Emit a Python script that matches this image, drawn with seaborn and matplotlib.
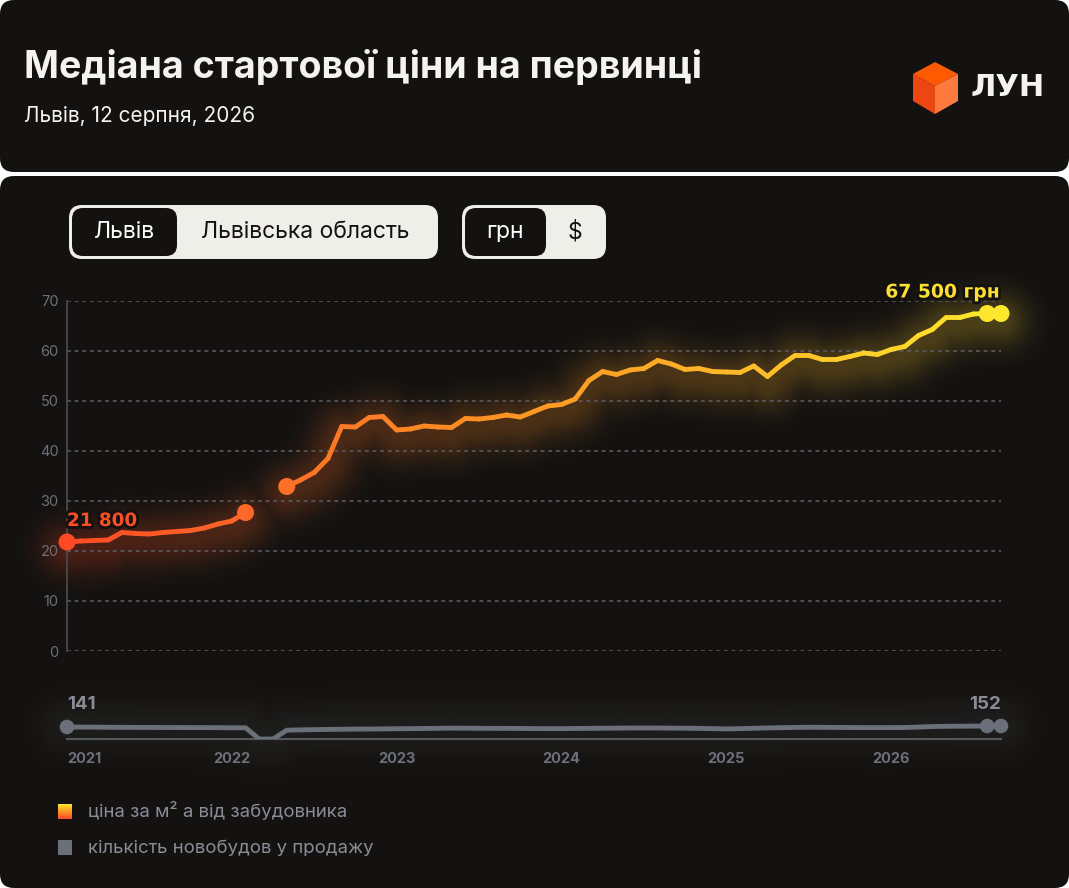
import numpy as np
import seaborn as sns
import matplotlib.pyplot as plt
import matplotlib.patheffects as pe
from matplotlib.collections import LineCollection
from matplotlib.colors import LinearSegmentedColormap
from matplotlib.patches import FancyBboxPatch, Polygon

# data: month index 0 = Jan 2021
months_a = list(range(0, 14))
price_a = [21.8, 22.0, 22.1, 22.2, 23.7, 23.5, 23.4, 23.7, 23.9, 24.1, 24.6, 25.4, 26.0, 27.7]
months_b = list(range(16, 69))
price_b = [32.9, 34.2, 35.7, 38.5, 44.9, 44.8, 46.7, 46.9, 44.2, 44.4, 45.0, 44.8,
           44.7, 46.5, 46.4, 46.7, 47.2, 46.8, 47.9, 49.0, 49.3, 50.4, 54.1, 55.9,
           55.3, 56.2, 56.5, 58.1, 57.4, 56.3, 56.5, 55.9, 55.8, 55.7, 57.0, 54.9,
           57.2, 59.1, 59.1, 58.3, 58.3, 58.9, 59.6, 59.3, 60.3, 60.9, 63.1, 64.3,
           66.7, 66.7, 67.4, 67.5, 67.5]
months_all = list(range(0, 69))
count_all = [141, 140, 139, 138, 137, 136, 136, 135, 135, 134, 134, 133, 132, 132,
             3, 3, 104, 108, 111, 113, 115, 117, 118, 119, 121, 122, 124, 126, 128,
             127, 126, 125, 125, 124, 123, 122, 122, 124, 125, 127, 128, 129, 130,
             129, 128, 127, 125, 122, 119, 122, 126, 130, 133, 136, 138, 137, 136,
             135, 134, 134, 134, 135, 140, 146, 149, 150, 151, 152, 152]
year_ticks = [0, 12, 24, 36, 48, 60]
year_labels = ['2021', '2022', '2023', '2024', '2025', '2026']
y_ticks = [0, 10, 20, 30, 40, 50, 60, 70]
first_label = '21 800'
last_label = '67 500 грн'
count_first, count_last = '141', '152'

W, H = 1069, 888
PANEL = '#131211'
GREY = '#6e7079'
LINE_GREY = '#6b6f7a'
# pixel frame of the main chart and the mini chart
X0, X1 = 67, 1001
Y_BOT, Y_TOP = 651, 301
MINI_BOT, MINI_TOP = 739.3, 700

sns.set_theme(style='dark')
plt.rcParams['font.family'] = ['Inter', 'DejaVu Sans']

price_cmap = LinearSegmentedColormap.from_list(
    'price', ['#ff4a24', '#ff6a28', '#ff8a24', '#ffa526', '#ffc62a', '#ffe82c'])


def box(x0, y0, x1, y1):
    return [x0 / W, 1 - y1 / H, (x1 - x0) / W, (y1 - y0) / H]


def glow(ax, lines, region, sigma, amp, color_fn, step=2):
    # soft halo around polylines (pixel coords), drawn as an RGBA image
    gx0, gx1, gy0, gy1 = region
    xs = np.arange(gx0, gx1, step) + step / 2
    ys = np.arange(gy0, gy1, step) + step / 2
    X, Y = np.meshgrid(xs, ys)
    d2 = np.full(X.shape, np.inf)
    for px, py in lines:
        for i in range(len(px) - 1):
            ax_, ay_, bx, by = px[i], py[i], px[i + 1], py[i + 1]
            dx, dy = bx - ax_, by - ay_
            ll = dx * dx + dy * dy
            t = np.clip(((X - ax_) * dx + (Y - ay_) * dy) / ll, 0, 1)
            d2 = np.minimum(d2, (X - ax_ - t * dx) ** 2 + (Y - ay_ - t * dy) ** 2)
    img = color_fn(X)
    img[..., 3] = amp * np.exp(-d2 / (2 * sigma ** 2))
    ax.imshow(img, extent=(gx0, gx1, gy1, gy0), origin='upper', aspect='auto',
              interpolation='bilinear', zorder=2)


fig = plt.figure(figsize=(W / 100, H / 100), dpi=100, facecolor='white')

# background, panels, header
bg = fig.add_axes([0, 0, 1, 1])
bg.axis('off')
bg.add_patch(FancyBboxPatch((0, 0), W, 172, boxstyle='round,pad=0,rounding_size=14',
                            fc=PANEL, ec='none'))
bg.add_patch(FancyBboxPatch((0, 176), W, H - 176, boxstyle='round,pad=0,rounding_size=14',
                            fc=PANEL, ec='none'))
bg.text(24, 68, 'Медіана стартової ціни на первинці', color='#f4f3ef', fontsize=27,
        fontweight='bold', va='center', ha='left')
bg.text(24, 116, 'Львів, 12 серпня, 2026', color='#f4f3ef', fontsize=15, va='center')

# logo cube
top, ul, ll, bot, lr, ur, cen = (935, 62), (913, 74), (913, 101), (935, 114), (958, 101), (958, 74), (935, 86)
bg.add_patch(Polygon([top, ur, cen, ul], fc='#ff5a00', ec='none'))
bg.add_patch(Polygon([ul, cen, bot, ll], fc='#ec4612', ec='none'))
bg.add_patch(Polygon([cen, ur, lr, bot], fc='#ff7a3c', ec='none'))
bg.text(971, 88, 'ЛУН', color='#f4f3ef', fontsize=22, fontweight='bold',
        family='DejaVu Sans', va='center')

# toggle buttons
bg.add_patch(FancyBboxPatch((69, 205), 369, 54, boxstyle='round,pad=0,rounding_size=13',
                            fc='#efefea', ec='none'))
bg.add_patch(FancyBboxPatch((72, 208), 105, 48, boxstyle='round,pad=0,rounding_size=11',
                            fc=PANEL, ec='none'))
bg.add_patch(FancyBboxPatch((462, 205), 144, 54, boxstyle='round,pad=0,rounding_size=13',
                            fc='#efefea', ec='none'))
bg.add_patch(FancyBboxPatch((465, 208), 81, 48, boxstyle='round,pad=0,rounding_size=11',
                            fc=PANEL, ec='none'))
bg.text(124, 232, 'Львів', color='white', fontsize=16.5, ha='center', va='center')
bg.text(305, 232, 'Львівська область', color=PANEL, fontsize=16.5, ha='center', va='center')
bg.text(505, 232, 'грн', color='white', fontsize=16.5, ha='center', va='center')
bg.text(575, 232, '$', color=PANEL, fontsize=16.5, ha='center', va='center')

# legend
grad = price_cmap(np.linspace(1, 0, 30))[:, None, :3]
bg.imshow(grad, extent=(58, 72, 819, 804), aspect='auto', zorder=3)
bg.add_patch(FancyBboxPatch((58, 840), 14, 15, boxstyle='square,pad=0', fc=LINE_GREY, ec='none'))
bg.text(88, 811, 'ціна за м² а від забудовника', color='#8a8c96', fontsize=13.4, va='center')
bg.text(88, 848, 'кількість новобудов у продажу', color='#8a8c96', fontsize=13.4, va='center')

# halos under the lines
sx = (X1 - X0) / 68
price_lines = [(X0 + np.array(m) * sx, Y_BOT - np.array(p) * (Y_BOT - Y_TOP) / 70 + 7)
               for m, p in [(months_a, price_a), (months_b, price_b)]]
glow(bg, price_lines, (10, 1060, 230, 710), sigma=19, amp=0.24,
     color_fn=lambda X: price_cmap(np.clip((X - X0) / (X1 - X0), 0, 1) * 0.9))
count_line = [(X0 + np.array(months_all) * sx,
               MINI_BOT - np.array(count_all) * (MINI_BOT - MINI_TOP) / 450)]
glow(bg, count_line, (10, 1060, 660, 800), sigma=20, amp=0.08,
     color_fn=lambda X: np.broadcast_to(np.array([0.62, 0.63, 0.67, 0.0]), X.shape + (4,)).copy())

bg.set_xlim(0, W)
bg.set_ylim(H, 0)

# main chart
ax = fig.add_axes(box(X0, Y_TOP, X1, Y_BOT))
ax.set_facecolor('none')
ax.set_xlim(0, 68)
ax.set_ylim(0, 70)
ax.set_yticks(y_ticks)
ax.set_xticks([])
ax.tick_params(axis='y', length=0, pad=6, labelcolor=GREY, labelsize=10.5)
for s in ['top', 'right', 'bottom']:
    ax.spines[s].set_visible(False)
ax.spines['left'].set_color('#4c4d54')
ax.spines['left'].set_linewidth(1.2)
ax.grid(False)
for v in y_ticks:
    ax.axhline(v, color='#5e5f66', lw=1.1, ls=(0, (2.5, 2.5)), zorder=1)

# gradient line
for xs, ys in [(months_a, price_a), (months_b, price_b)]:
    pts = np.column_stack([xs, ys])
    segs = np.stack([pts[:-1], pts[1:]], axis=1)
    cols = price_cmap((np.array(xs[:-1]) + 0.5) / 68)
    ax.add_collection(LineCollection(segs, colors=cols, linewidths=3.5,
                                     capstyle='round', joinstyle='round', zorder=4))

dot_x = [months_a[0], months_a[-1], months_b[0], months_b[-2], months_b[-1]]
dot_y = [price_a[0], price_a[-1], price_b[0], price_b[-2], price_b[-1]]
dot_c = [price_cmap(x / 68) for x in dot_x]
sns.scatterplot(x=dot_x, y=dot_y, hue=list(range(len(dot_x))), palette=dot_c, s=150,
                edgecolor='none', legend=False, ax=ax, zorder=5, clip_on=False)

stroke = [pe.withStroke(linewidth=4, foreground=PANEL)]
ax.text(0, 26.0, first_label, color='#ff4d26', fontsize=13.2, fontweight='bold',
        family='DejaVu Sans', ha='left', va='center', path_effects=stroke, zorder=6)
ax.text(67.9, 71.8, last_label, color='#ffe030', fontsize=13.5, fontweight='bold',
        family='DejaVu Sans', ha='right', va='center', path_effects=stroke, zorder=6,
        clip_on=False)

# mini chart: number of projects on sale
ax2 = fig.add_axes(box(X0, MINI_TOP, X1, MINI_BOT))
ax2.set_facecolor('none')
ax2.set_xlim(0, 68)
ax2.set_ylim(0, 450)
for s in ['top', 'right', 'left']:
    ax2.spines[s].set_visible(False)
ax2.spines['bottom'].set_color('#55575f')
ax2.spines['bottom'].set_linewidth(1.5)
ax2.grid(False)
sns.lineplot(x=months_all, y=count_all, color=LINE_GREY, lw=3.5, ax=ax2, zorder=3)
sns.scatterplot(x=[months_all[0], months_all[-2], months_all[-1]],
                y=[count_all[0], count_all[-2], count_all[-1]],
                color=LINE_GREY, s=110, edgecolor='none', ax=ax2, zorder=4, clip_on=False)
ax2.set_yticks([])
ax2.set_xticks(year_ticks)
ax2.set_xticklabels(year_labels)
ax2.tick_params(axis='x', direction='out', length=4.5, width=1.2, color='#55575f',
                pad=5, labelcolor=GREY, labelsize=10.5)
for lab in ax2.get_xticklabels():
    lab.set_fontweight('bold')
ax2.get_xticklabels()[0].set_ha('left')
ax2.set_xlabel('')
ax2.set_ylabel('')
ax2.text(0, 393, count_first, color='#8a8c96', fontsize=13.5, fontweight='bold',
         ha='left', va='center', clip_on=False)
ax2.text(68, 393, count_last, color='#8a8c96', fontsize=13.5, fontweight='bold',
         ha='right', va='center', clip_on=False)

plt.savefig('out.png', dpi=100, facecolor='white')
